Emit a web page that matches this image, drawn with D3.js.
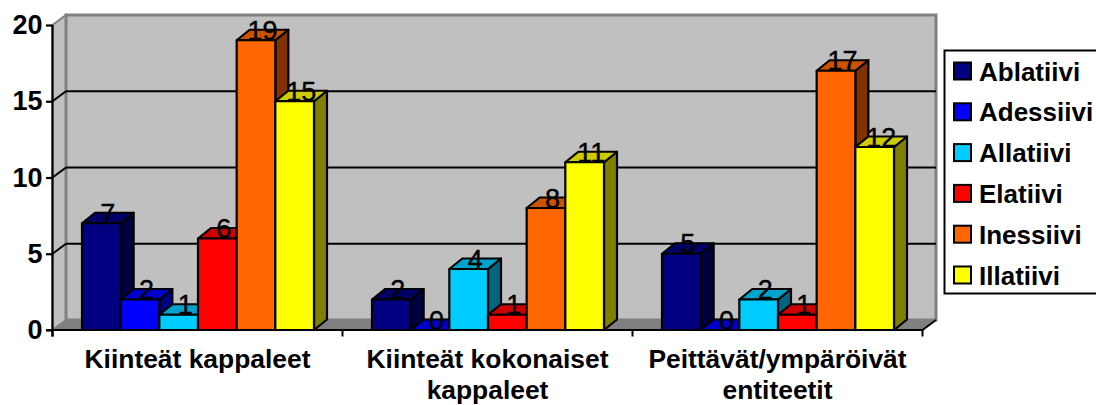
<!DOCTYPE html>
<html lang="fi">
<head>
<meta charset="UTF-8">
<title>Sijamuodot</title>
<style>
  html, body { margin: 0; background: #fff; overflow: hidden; }
  svg { display: block; }
  text { font-family: "Liberation Sans", Arial, sans-serif; fill: #000; }
  .axis text { font-size: 27px; font-weight: bold; }
  .cat { font-size: 26.4px; font-weight: bold; text-anchor: middle; }
  .val { font-size: 27px; text-anchor: middle; stroke: #000; stroke-width: 0.4; }
  .leg { font-size: 26px; font-weight: bold; }
  .bar path { stroke: #000; stroke-width: 2.2; stroke-linejoin: round; }
</style>
<script src="https://d3js.org/d3.v7.min.js"></script>
</head>
<body>
<div id="chart"></div>
<script>
// data
var categories = ["Kiinteät kappaleet", "Kiinteät kokonaiset kappaleet", "Peittävät/ympäröivät entiteetit"];
var categoryLines = [["Kiinteät kappaleet"], ["Kiinteät kokonaiset", "kappaleet"], ["Peittävät/ympäröivät", "entiteetit"]];
var seriesNames = ["Ablatiivi", "Adessiivi", "Allatiivi", "Elatiivi", "Inessiivi", "Illatiivi"];
var seriesColors = ["#000080", "#0000ff", "#00ccff", "#ff0000", "#ff6600", "#ffff00"];
var ablatiivi = [7, 2, 5];
var adessiivi = [2, 0, 0];
var allatiivi = [1, 4, 2];
var elatiivi = [6, 1, 1];
var inessiivi = [19, 8, 17];
var illatiivi = [15, 11, 12];
var seriesValues = [ablatiivi, adessiivi, allatiivi, elatiivi, inessiivi, illatiivi];
var yTicks = [0, 5, 10, 15, 20];

var W = 1096, H = 405;
var left = 52.5, right = 922.5, bottom = 330, top_ = 25;
var dx = 13.5, dy = 10;      // depth of the fake 3d
var bdx = 13, bdy = 10.5;    // depth of the bars

var svg = d3.select("#chart").append("svg").attr("width", W).attr("height", H);

var x0 = d3.scaleBand().domain(d3.range(categories.length)).range([left, right]).paddingInner(0).paddingOuter(0);
var x1 = d3.scaleBand().domain(d3.range(seriesNames.length)).range([29.5, 261.5]);
var y = d3.scaleLinear().domain([0, 20]).range([bottom, top_]);

function shade(c, k) {
  var r = d3.rgb(c);
  return d3.rgb(r.r * k, r.g * k, r.b * k).formatHex();
}

// walls and floor
svg.append("path")
  .attr("d", d3.line()([[left, bottom], [left, top_], [left + dx, top_ - dy], [left + dx, bottom - dy]]) + "Z")
  .attr("fill", "#c0c0c0").attr("stroke", "#808080").attr("stroke-width", 2);
svg.append("rect")
  .attr("x", left + dx).attr("y", top_ - dy)
  .attr("width", right - left).attr("height", bottom - top_)
  .attr("fill", "#c0c0c0").attr("stroke", "#808080").attr("stroke-width", 3);
svg.append("path")
  .attr("d", d3.line()([[left, bottom], [left + dx, bottom - dy], [right + dx, bottom - dy], [right, bottom]]) + "Z")
  .attr("fill", "#808080");

// gridlines on the back wall, with the slanted bit on the side wall
svg.append("g").selectAll("line").data(yTicks.filter(function(d) { return d > 0 && d < 20; }))
  .enter().append("line")
  .attr("x1", left + dx).attr("x2", right + dx)
  .attr("y1", function(d) { return y(d) - dy; })
  .attr("y2", function(d) { return y(d) - dy; })
  .attr("stroke", "#000").attr("stroke-width", 2);
svg.append("g").selectAll("line").data(yTicks.filter(function(d) { return d > 0 && d < 20; }))
  .enter().append("line")
  .attr("x1", left).attr("x2", left + dx)
  .attr("y1", function(d) { return y(d); })
  .attr("y2", function(d) { return y(d) - dy; })
  .attr("stroke", "#000").attr("stroke-width", 2);
svg.append("line")
  .attr("x1", right).attr("x2", right + dx)
  .attr("y1", bottom).attr("y2", bottom - dy)
  .attr("stroke", "#000").attr("stroke-width", 2);

// bars, left to right so the next bar covers the side of the previous one
var bars = [];
categories.forEach(function(c, i) {
  seriesNames.forEach(function(s, j) {
    bars.push({ cat: i, ser: j, value: seriesValues[j][i] });
  });
});

var bar = svg.append("g").selectAll("g").data(bars).enter().append("g").attr("class", "bar");
var bw = x1.bandwidth();

function bx(d) { return x0(d.cat) + x1(d.ser); }

bar.append("path") // side
  .attr("fill", function(d) { return shade(seriesColors[d.ser], 0.5); })
  .attr("d", function(d) {
    var a = bx(d) + bw, t = y(d.value);
    return d3.line()([[a, bottom], [a, t], [a + bdx, t - bdy], [a + bdx, bottom - bdy]]) + "Z";
  });
bar.append("path") // top
  .attr("fill", function(d) { return shade(seriesColors[d.ser], 0.8); })
  .attr("d", function(d) {
    var a = bx(d), t = y(d.value);
    return d3.line()([[a, t], [a + bdx, t - bdy], [a + bw + bdx, t - bdy], [a + bw, t]]) + "Z";
  });
bar.append("path") // front
  .attr("fill", function(d) { return seriesColors[d.ser]; })
  .attr("d", function(d) {
    var a = bx(d), t = y(d.value);
    return d3.line()([[a, bottom], [a, t], [a + bw, t], [a + bw, bottom]]) + "Z";
  });

// axes
var yAxis = d3.axisLeft(y).tickValues(yTicks).tickSize(6.5).tickPadding(3.5);
var ga = svg.append("g").attr("class", "axis").attr("transform", "translate(" + left + ",0)").call(yAxis);
ga.selectAll("line, path").attr("stroke", "#000").attr("stroke-width", 2.2);
ga.select(".domain").attr("d", "M0," + top_ + "V" + (bottom + 6.5));

svg.append("line").attr("x1", left - 6.5).attr("x2", right)
  .attr("y1", bottom).attr("y2", bottom).attr("stroke", "#000").attr("stroke-width", 2.2);
svg.append("g").selectAll("line").data(d3.range(categories.length + 1))
  .enter().append("line")
  .attr("x1", function(i) { return left + i * x0.step(); })
  .attr("x2", function(i) { return left + i * x0.step(); })
  .attr("y1", bottom).attr("y2", bottom + 6.5)
  .attr("stroke", "#000").attr("stroke-width", 2);

// value labels on top of everything
svg.append("g").selectAll("text").data(bars).enter().append("text")
  .attr("class", "val")
  .attr("x", function(d) { return bx(d) + bw / 2 + bdx / 2; })
  .attr("y", function(d) { return y(d.value) - 0.5; })
  .text(function(d) { return d.value; });

// category labels, second line pulled up a bit so it stays inside the page
var cat = svg.append("g").selectAll("text").data(categoryLines).enter().append("text")
  .attr("class", "cat")
  .attr("x", function(d, i) { return x0(i) + x0.bandwidth() / 2; })
  .attr("y", 367.5);
cat.selectAll("tspan").data(function(d) { return d; }).enter().append("tspan")
  .attr("x", function() { return d3.select(this.parentNode).attr("x"); })
  .attr("dy", function(d, i) { return i ? 31.5 : 0; })
  .text(function(d) { return d; });

// legend, runs off the right edge like the original
svg.append("rect").attr("x", 944.5).attr("y", 50.5).attr("width", 160).attr("height", 243)
  .attr("fill", "#fff").attr("stroke", "#000").attr("stroke-width", 2);
var legY = d3.scalePoint().domain(seriesNames).range([71, 275]);
var leg = svg.append("g").selectAll("g").data(seriesNames).enter().append("g")
  .attr("transform", function(d) { return "translate(0," + legY(d) + ")"; });
leg.append("rect").attr("x", 954).attr("y", -8.5).attr("width", 17).attr("height", 17)
  .attr("fill", function(d, i) { return seriesColors[i]; })
  .attr("stroke", "#000").attr("stroke-width", 2);
leg.append("text").attr("class", "leg").attr("x", 979).attr("y", 9.5)
  .text(function(d) { return d; });
</script>
</body>
</html>
